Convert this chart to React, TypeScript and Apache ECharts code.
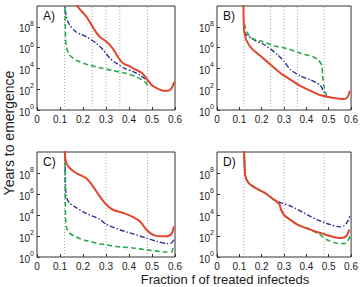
import React, { useEffect, useRef } from "react";
import * as echarts from "echarts";

// Fraction of treated infecteds (x) vs. log10 of years to emergence (y)
const xTickValues = [0, 0.1, 0.2, 0.3, 0.4, 0.5, 0.6];
const yExponents = [0, 2, 4, 6, 8];
const panelLabels = ["A)", "B)", "C)", "D)"];
const dividersTop = [0.12, 0.24, 0.3, 0.36, 0.48];
const dividersBottom = [0.12, 0.3, 0.48];

// Panel A
const aRed = [[0.165, 10.6], [0.178, 9.9], [0.214, 9.0], [0.25, 7.7], [0.272, 7.05], [0.3, 6.6], [0.33, 5.9], [0.352, 5.1], [0.374, 4.5], [0.403, 4.2], [0.432, 3.85], [0.454, 3.6], [0.476, 3.05], [0.498, 2.4], [0.52, 2.1], [0.549, 1.86], [0.57, 1.86], [0.585, 2.08], [0.597, 2.7]];
const aBlue = [[0.121, 10.6], [0.122, 10], [0.127, 9.0], [0.141, 8.2], [0.17, 7.5], [0.214, 7.05], [0.258, 6.4], [0.287, 5.8], [0.316, 5.0], [0.345, 4.5], [0.381, 4.0], [0.418, 3.7], [0.447, 3.35], [0.476, 2.9], [0.49, 2.6]];
const aGreen = [[0.121, 10.6], [0.122, 9], [0.124, 7], [0.127, 6.1], [0.141, 5.3], [0.17, 4.8], [0.214, 4.4], [0.272, 4.07], [0.33, 3.8], [0.389, 3.5], [0.432, 3.2], [0.469, 2.7], [0.483, 2.35], [0.495, 2.3]];

// Panel B
const bRed = [[0.118, 10.6], [0.119, 9], [0.121, 7.8], [0.125, 7.2], [0.134, 6.6], [0.156, 5.9], [0.2, 5.1], [0.243, 4.3], [0.287, 3.5], [0.33, 2.9], [0.374, 2.3], [0.418, 1.86], [0.461, 1.44], [0.505, 1.22], [0.549, 1.09], [0.57, 1.06], [0.585, 1.28], [0.595, 1.86]];
const bBlue = [[0.122, 7.5], [0.134, 7.2], [0.17, 6.7], [0.214, 6.25], [0.272, 5.3], [0.301, 4.65], [0.33, 3.85], [0.374, 3.27], [0.418, 2.9], [0.461, 2.4], [0.476, 1.86], [0.49, 1.38]];
const bGreen = [[0.122, 8.3], [0.134, 7.5], [0.156, 6.9], [0.2, 6.6], [0.258, 6.15], [0.316, 5.9], [0.374, 5.45], [0.432, 5.1], [0.454, 4.8], [0.469, 4.3], [0.473, 3.2], [0.479, 2.24], [0.486, 1.67], [0.49, 1.38]];

// Panel C
const cRed = [[0.121, 10.6], [0.122, 9.6], [0.127, 9.0], [0.141, 8.5], [0.17, 8.0], [0.214, 7.5], [0.243, 6.75], [0.272, 5.8], [0.301, 5.0], [0.33, 4.5], [0.374, 4.2], [0.418, 3.8], [0.447, 3.4], [0.476, 2.6], [0.505, 2.1], [0.534, 1.97], [0.563, 1.97], [0.585, 2.2], [0.595, 2.9]];
const cBlue = [[0.121, 10.6], [0.123, 8], [0.127, 5.8], [0.141, 5.15], [0.17, 4.7], [0.214, 4.15], [0.272, 3.6], [0.301, 3.1], [0.36, 2.6], [0.418, 2.2], [0.476, 1.8], [0.52, 1.5], [0.563, 1.27], [0.585, 1.34], [0.595, 1.65]];
const cGreen = [[0.121, 10.6], [0.123, 5], [0.127, 2.9], [0.141, 2.3], [0.17, 1.9], [0.214, 1.56], [0.272, 1.27], [0.345, 1.0], [0.418, 0.86], [0.49, 0.64], [0.563, 0.48], [0.585, 0.48], [0.592, 1.0]];

// Panel D
const dBlue = [[0.121, 10.6], [0.123, 9], [0.127, 7.7], [0.141, 7.07], [0.17, 6.6], [0.214, 6.1], [0.243, 5.64], [0.265, 5.32], [0.287, 5.15], [0.33, 4.85], [0.389, 4.2], [0.447, 3.57], [0.505, 3.1], [0.549, 2.87], [0.57, 3.0], [0.585, 3.4], [0.595, 3.9]];
const dRed = [[0.121, 10.6], [0.123, 9], [0.127, 7.7], [0.141, 7.07], [0.17, 6.6], [0.214, 6.1], [0.243, 5.64], [0.265, 5.32], [0.28, 5.0], [0.287, 4.5], [0.3, 4.0], [0.316, 3.73], [0.36, 3.09], [0.418, 2.61], [0.476, 2.2], [0.52, 1.91], [0.556, 1.82], [0.578, 1.97], [0.592, 2.61]];
const dGreen = [[0.121, 10.6], [0.123, 9], [0.127, 7.7], [0.141, 7.07], [0.17, 6.6], [0.214, 6.1], [0.243, 5.64], [0.265, 5.32], [0.28, 5.0], [0.287, 4.5], [0.3, 4.0], [0.316, 3.73], [0.36, 3.09], [0.418, 2.6], [0.461, 2.13], [0.49, 1.66], [0.534, 1.34], [0.57, 1.27], [0.585, 1.5], [0.595, 1.97]];

const RED = "#e2462d";
const BLUE = "#2c2f92";
const GREEN = "#2aa84c";
const INK = "#222";
const FONT = "Liberation Sans, Arial, sans-serif";

const panels = [
  { red: aRed, blue: aBlue, green: aGreen, dividers: dividersTop },
  { red: bRed, blue: bBlue, green: bGreen, dividers: dividersTop },
  { red: cRed, blue: cBlue, green: cGreen, dividers: dividersBottom },
  { red: dRed, blue: dBlue, green: dGreen, dividers: dividersBottom },
];

const grids = [
  { left: 37, top: 6, width: 138, height: 104 },
  { left: 217, top: 6, width: 138, height: 104 },
  { left: 37, top: 152, width: 138, height: 105 },
  { left: 217, top: 152, width: 138, height: 105 },
];

export default function App() {
  const ref = useRef<HTMLDivElement>(null);

  useEffect(() => {
    if (!ref.current) return;
    const chart = echarts.init(ref.current, null, { renderer: "svg" });

    const series: any[] = [];
    panels.forEach((p, i) => {
      p.dividers.forEach((d) => {
        series.push({
          type: "line",
          xAxisIndex: i,
          yAxisIndex: i,
          data: [[d, 0], [d, 10]],
          symbol: "none",
          silent: true,
          lineStyle: { color: "#8a8a8a", width: 0.8, type: [1, 2] },
        });
      });
      const curve = (data: number[][], color: string, width: number, type: any) => ({
        type: "line",
        xAxisIndex: i,
        yAxisIndex: i,
        data,
        symbol: "none",
        smooth: 0.25,
        clip: true,
        lineStyle: { color, width, type },
      });
      series.push(curve(p.blue, BLUE, 1.4, [5, 2, 1.5, 2]));
      series.push(curve(p.green, GREEN, 1.6, [5, 3]));
      series.push(curve(p.red, RED, 2, "solid"));
    });

    chart.setOption({
      animation: false,
      grid: grids.map((g) => ({
        ...g,
        show: true,
        borderColor: "#333",
        borderWidth: 1,
        backgroundColor: "#fff",
      })),
      xAxis: grids.map((_, i) => ({
        type: "value",
        gridIndex: i,
        min: 0,
        max: 0.6,
        interval: 0.1,
        axisLine: { show: false },
        splitLine: { show: false },
        axisTick: { show: true, inside: true, length: 3, lineStyle: { color: "#333" } },
        axisLabel: {
          color: INK,
          fontSize: 10,
          fontFamily: FONT,
          margin: 4,
          formatter: (v: number) => {
            const t = xTickValues.find((x) => Math.abs(x - v) < 1e-6);
            return t === undefined ? "" : String(+t.toFixed(1));
          },
        },
      })),
      yAxis: grids.map((_, i) => ({
        type: "value",
        gridIndex: i,
        min: 0,
        max: 10,
        interval: 2,
        axisLine: { show: false },
        splitLine: { show: false },
        axisTick: { show: true, inside: true, length: 3, lineStyle: { color: "#333" } },
        axisLabel: {
          showMaxLabel: false,
          margin: 3,
          formatter: (v: number) => (yExponents.includes(v) ? `{b|10}{s|${v}}` : ""),
          rich: {
            b: { fontSize: 10, color: INK, fontFamily: FONT, lineHeight: 14, verticalAlign: "bottom" },
            s: { fontSize: 7, color: INK, fontFamily: FONT, lineHeight: 14, verticalAlign: "top" },
          },
        },
      })),
      series,
      graphic: [
        ...grids.map((g, i) => ({
          type: "text",
          left: g.left + 6,
          top: g.top + 4,
          style: { text: panelLabels[i], fontSize: 12, fontFamily: FONT, fill: "#111" },
        })),
        {
          type: "text",
          x: 9,
          y: 133,
          rotation: Math.PI / 2,
          style: {
            text: "Years to emergence",
            fontSize: 14,
            fontFamily: FONT,
            fill: INK,
            align: "center",
            verticalAlign: "middle",
          },
        },
        {
          type: "text",
          x: 225,
          y: 279,
          style: {
            text: "Fraction f of treated infecteds",
            fontSize: 13,
            fontFamily: FONT,
            fill: INK,
            align: "center",
            verticalAlign: "middle",
          },
        },
      ],
    });

    return () => chart.dispose();
  }, []);

  return <div ref={ref} style={{ width: 361, height: 287, position: "absolute", left: 0, top: 0 }} />;
}
